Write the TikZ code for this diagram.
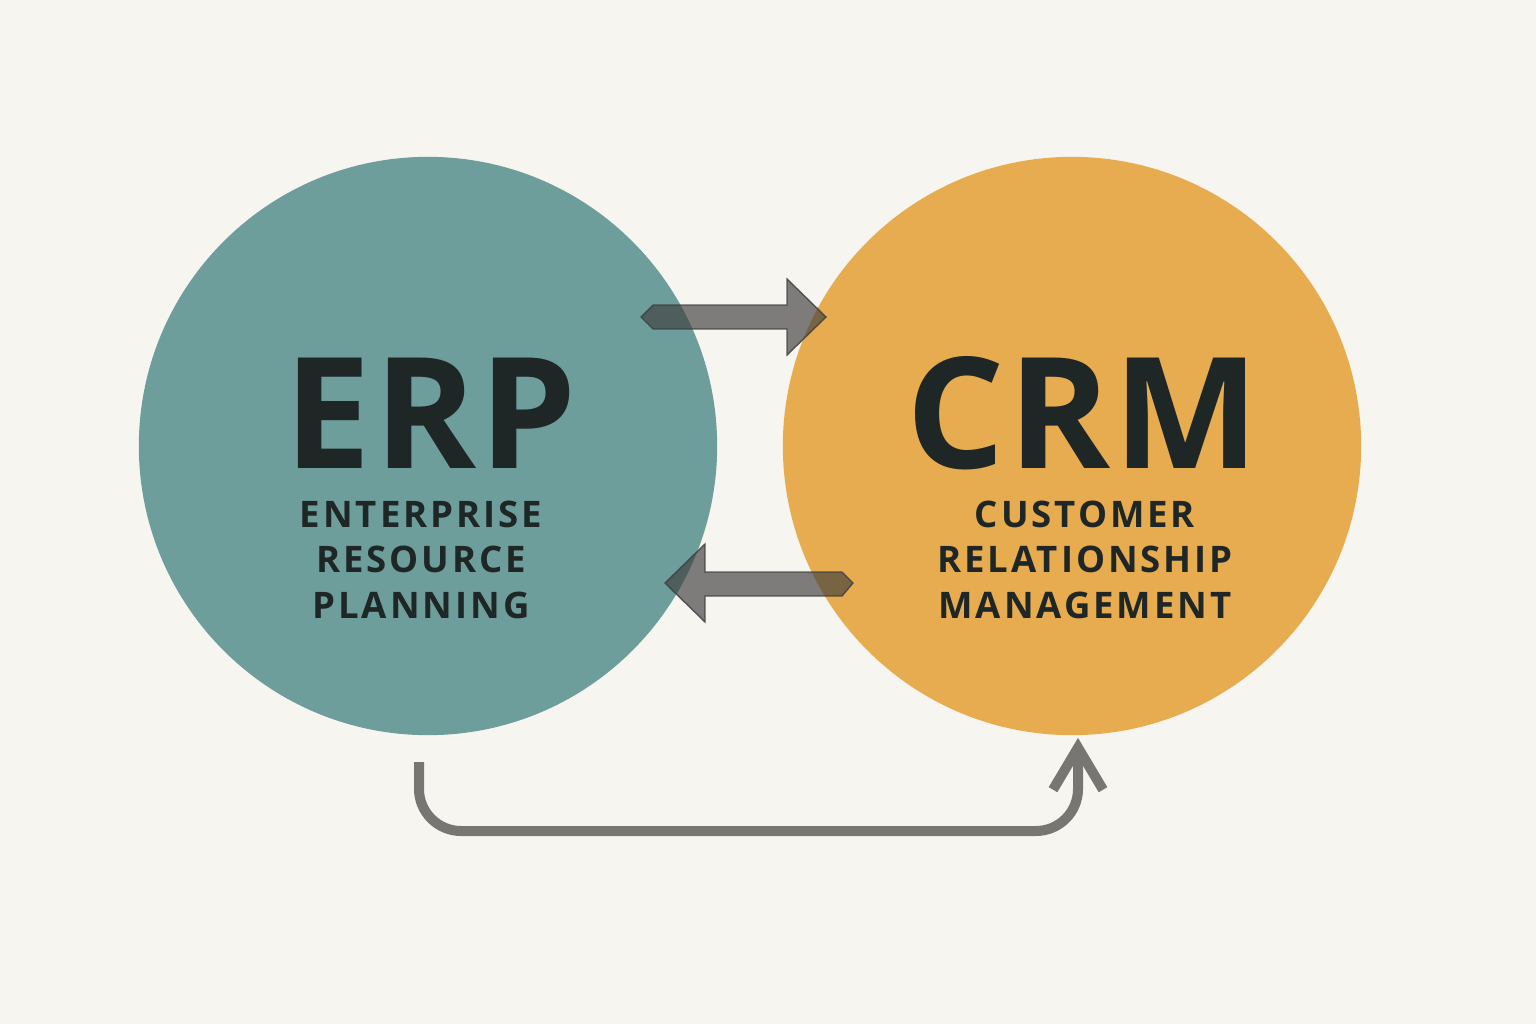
\documentclass[tikz,border=0pt]{standalone}
\usepackage{fontspec}
\setmainfont{Open Sans}
\usetikzlibrary{arrows.meta}
\definecolor{bgcol}{HTML}{F7F5EF}
\definecolor{tealcol}{HTML}{6E9E9C}
\definecolor{ambercol}{HTML}{E8AC50}
\definecolor{inkcol}{HTML}{1E2626}
\definecolor{arrowcol}{HTML}{3C3C3C}
\definecolor{linkcol}{HTML}{787673}

\begin{document}
\begin{tikzpicture}[x=0.01cm,y=-0.01cm,
	bubble/.style={circle,minimum size=5.78cm,inner sep=0pt},
	title/.style={anchor=base,text=inkcol,inner sep=0pt,font=\fontsize{44}{50}\selectfont\bfseries\addfontfeatures{LetterSpace=2}},
	subtitle/.style={anchor=base,text=inkcol,inner sep=0pt,align=center,font=\fontsize{10.4}{12.8}\selectfont\bfseries\addfontfeatures{LetterSpace=8}},
	fatarrow/.style={fill=arrowcol,fill opacity=0.65,draw=arrowcol,draw opacity=0.8,line width=0.4pt},
	link/.style={draw=linkcol,line width=0.1cm,rounded corners=0.42cm,-{Straight Barb[length=0.42cm,width=0.5cm]}}]
		\fill[bgcol] (0,0) rectangle (1536,1024);
		\useasboundingbox (0,0) rectangle (1536,1024);
		\node[bubble,fill=tealcol] (erp) at (428,446) {};
		\node[bubble,fill=ambercol] (crm) at (1072,446) {};
		
		\node[title] (erptitle) at (431,468) {ERP};
		\node[title] (crmtitle) at (1083,468) {CRM};
		% base of a multi-line node is its last line
		\node[subtitle] (erpsub) at (421,618) {ENTERPRISE\\RESOURCE\\PLANNING};
		\node[subtitle] (crmsub) at (1085,618) {CUSTOMER\\RELATIONSHIP\\MANAGEMENT};
		
		% ERP -> CRM
		\coordinate (a1) at (641,317);
		\coordinate (a2) at (826,317);
		\fill[fatarrow] (a1) -- ++(12,-12) -- (787,305) -- (787,279) -- (a2) -- (787,355) -- (787,329) -- ++(-134,0) -- cycle;
		% CRM -> ERP
		\coordinate (b1) at (853,583);
		\coordinate (b2) at (665,583);
		\fill[fatarrow] (b1) -- ++(-11,-11) -- (705,572) -- (705,544) -- (b2) -- (705,622) -- (705,596) -- ++(137,0) -- cycle;
		
		% bottom link
		\coordinate (l0) at (419,762);
		\draw[link] (l0) -- (419,831) -| ([xshift=0.06cm,yshift=-0.02cm]crm.south);
\end{tikzpicture}
\end{document}
